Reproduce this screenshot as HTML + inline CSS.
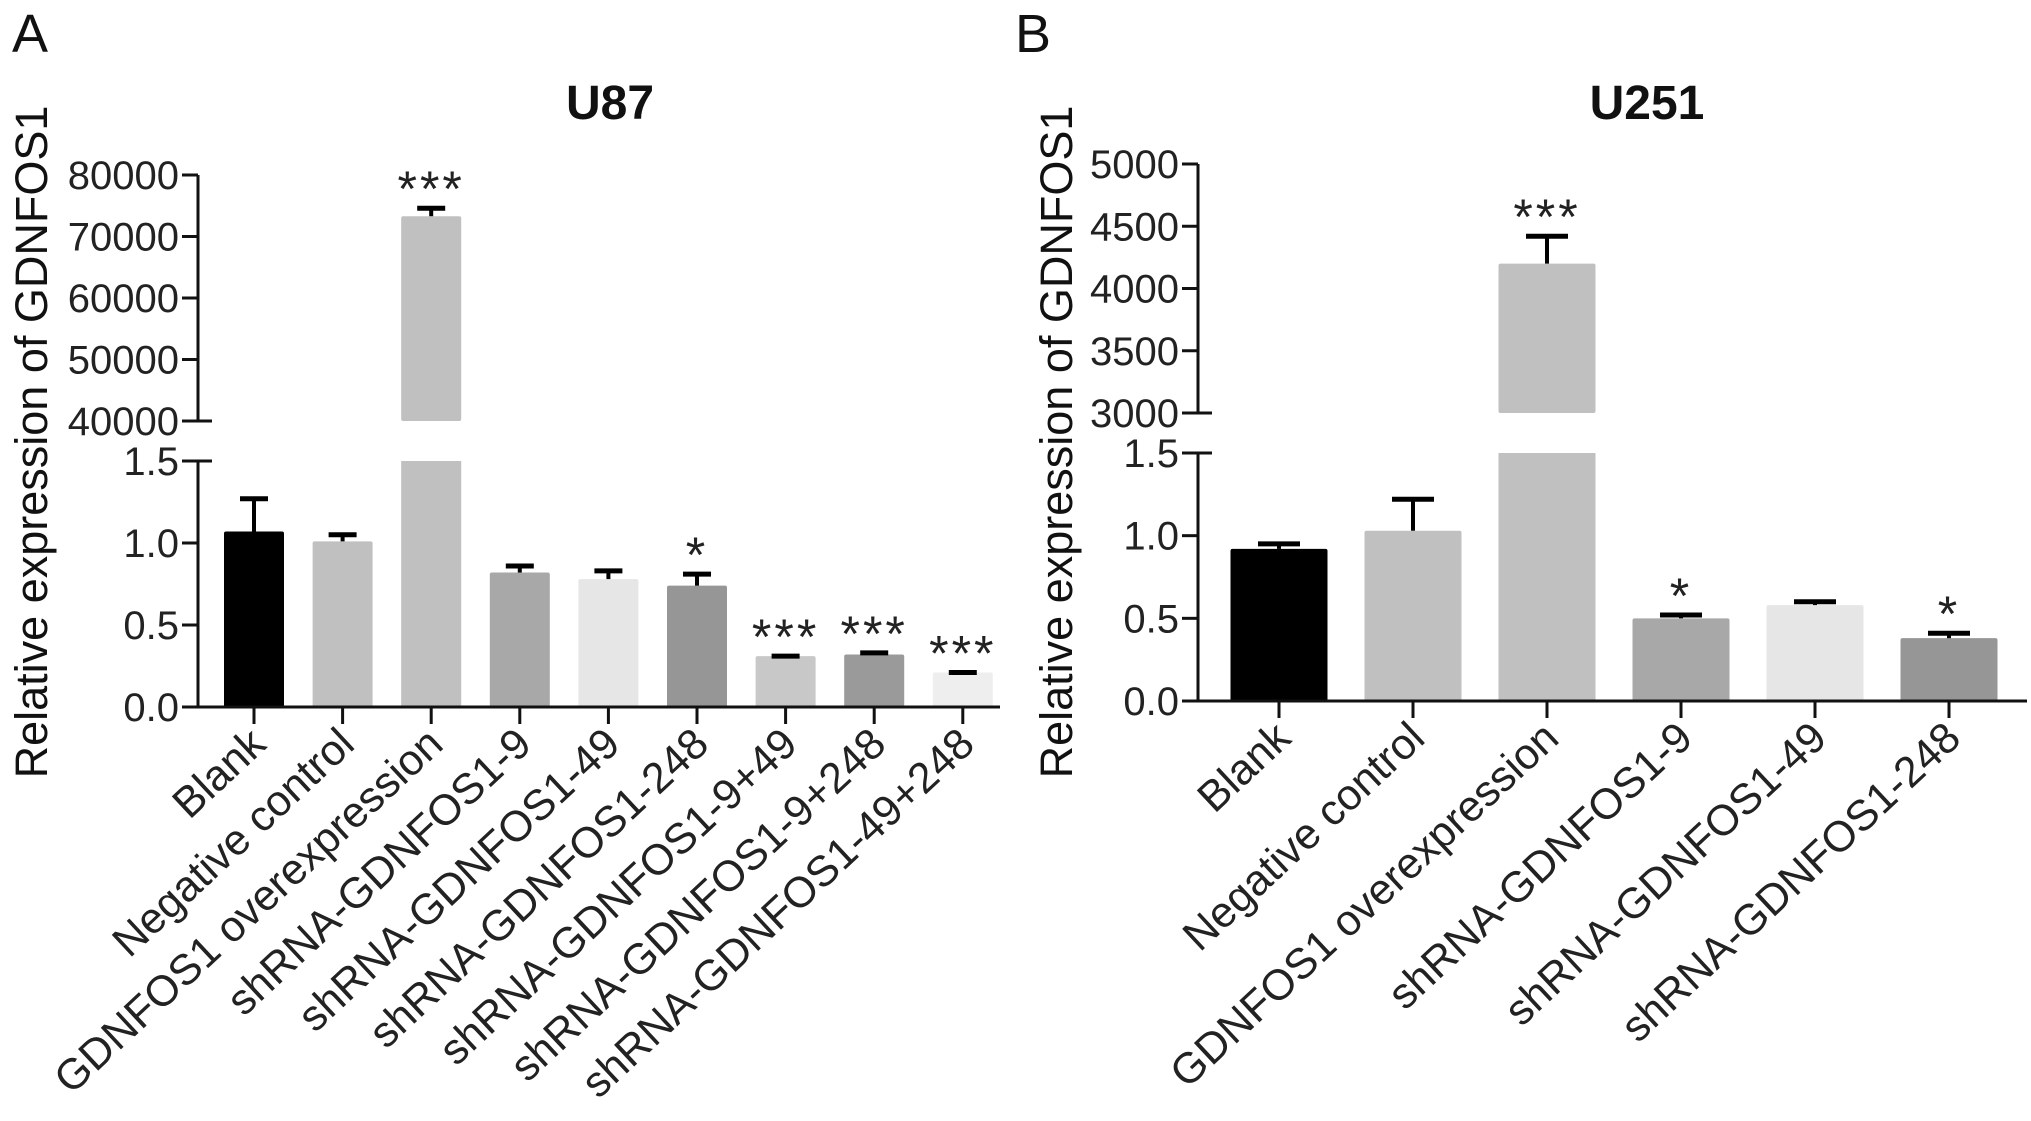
<!DOCTYPE html>
<html><head><meta charset="utf-8"><style>
html,body{margin:0;padding:0;background:#fff;}
svg{display:block;font-family:"Liberation Sans",Arial,sans-serif;}
</style></head><body>
<svg id="fig" width="2031" height="1121" viewBox="0 0 2031 1121" xmlns="http://www.w3.org/2000/svg"></svg>
<script>
// Panel A data (U87)
const catsA = ["Blank","Negative control","GDNFOS1 overexpression","shRNA-GDNFOS1-9","shRNA-GDNFOS1-49","shRNA-GDNFOS1-248","shRNA-GDNFOS1-9+49","shRNA-GDNFOS1-9+248","shRNA-GDNFOS1-49+248"];
const valsA = [1.07,1.01,73300,0.82,0.78,0.74,0.31,0.32,0.21];
const errA = [0.20,0.04,1300,0.04,0.05,0.07,0.00,0.01,0.00];
const starsA = ["","","***","","","*","***","***","***"];
const colorsA = ["#000000","#c0c0c0","#c0c0c0","#a8a8a8","#e6e6e6","#969696","#c8c8c8","#9a9a9a","#eeeeee"];
const lowTicksA = ["0.0","0.5","1.0","1.5"];
const highTicksA = ["40000","50000","60000","70000","80000"];
// Panel B data (U251)
const catsB = ["Blank","Negative control","GDNFOS1 overexpression","shRNA-GDNFOS1-9","shRNA-GDNFOS1-49","shRNA-GDNFOS1-248"];
const valsB = [0.92,1.03,4200,0.50,0.58,0.38];
const errB = [0.03,0.19,220,0.02,0.02,0.03];
const starsB = ["","","***","*","","*"];
const colorsB = ["#000000","#c0c0c0","#c0c0c0","#a8a8a8","#e6e6e6","#969696"];
const lowTicksB = ["0.0","0.5","1.0","1.5"];
const highTicksB = ["3000","3500","4000","4500","5000"];

const NS="http://www.w3.org/2000/svg";
const svg=document.getElementById('fig');
function mk(tag,attrs,parent,txt){const e=document.createElementNS(NS,tag);for(const k in attrs)e.setAttribute(k,attrs[k]);if(txt!==undefined)e.textContent=txt;(parent||svg).appendChild(e);return e;}

function panel(o){
  const g=mk('g',{});
  
  
  const lowMax=+o.lowTicks[o.lowTicks.length-1];
  const hMin=+o.highTicks[0], hMax=+o.highTicks[o.highTicks.length-1];
  const yLow=v=>o.y0-v/lowMax*(o.y0-o.yLowTop);
  const yHigh=v=>o.yHighBot-(v-hMin)/(hMax-hMin)*(o.yHighBot-o.yHighTop);
  const xPos=i=>o.x0+i*o.step;
  const L=mk('text',{x:o.letterX,y:52,'font-size':54,fill:'#111'},g,o.letter);
  
  const T=mk('text',{x:o.titleX,y:119,'font-size':48,'font-weight':'bold','text-anchor':'middle',fill:'#111'},g,o.title);
  
  const YT=mk('text',{x:0,y:0,'font-size':45,'text-anchor':'middle',fill:'#111',transform:`translate(${o.ytX},${o.ytY}) rotate(-90)`},g,'Relative expression of GDNFOS1');
  
  o.vals.forEach((v,i)=>{
    const cx=xPos(i), w=o.bw;
    let et;
    if(v>lowMax){
      const b1=mk('rect',{x:cx-w/2,y:o.yLowTop,width:w,height:o.y0-o.yLowTop,fill:o.colors[i]},g);
      
      const b2=mk('rect',{x:cx-w/2,y:yHigh(v),width:w,height:o.yHighBot-yHigh(v),fill:o.colors[i],rx:2},g);
      
      et=yHigh(v+o.err[i]);
      mk('line',{x1:cx,x2:cx,y1:yHigh(v),y2:et,stroke:'#000','stroke-width':4},g);
    } else {
      const b=mk('rect',{x:cx-w/2,y:yLow(v),width:w,height:o.y0-yLow(v),fill:o.colors[i],rx:2},g);
      
      et=yLow(v+o.err[i]);
      mk('line',{x1:cx,x2:cx,y1:yLow(v),y2:et,stroke:'#000','stroke-width':4},g);
    }
    const c=mk('line',{x1:cx-o.cap/2,x2:cx+o.cap/2,y1:et,y2:et,stroke:'#000','stroke-width':5},g);
    
    if(o.stars[i]){const s=mk('text',{x:cx,y:et-2,'font-size':50,'text-anchor':'middle','letter-spacing':3,fill:'#222'},g,o.stars[i]);
      }
  });
  const ax=mk('line',{x1:o.axX,x2:o.axX,y1:o.y0+1.5,y2:o.yLowTop,stroke:'#111','stroke-width':3},g);
  
  const ax2=mk('line',{x1:o.axX,x2:o.axX,y1:o.yHighBot,y2:o.yHighTop,stroke:'#111','stroke-width':3},g);
  
  const xa=mk('line',{x1:o.axX,x2:o.xEnd,y1:o.y0,y2:o.y0,stroke:'#111','stroke-width':3},g);
  
  mk('line',{x1:o.axX,x2:o.axX+14,y1:o.yLowTop,y2:o.yLowTop,stroke:'#111','stroke-width':3},g);
  mk('line',{x1:o.axX,x2:o.axX+14,y1:o.yHighBot,y2:o.yHighBot,stroke:'#111','stroke-width':3},g);
  o.lowTicks.forEach(t=>{const y=yLow(+t);
    mk('line',{x1:o.axX-16,x2:o.axX,y1:y,y2:y,stroke:'#111','stroke-width':3},g);
    const e=mk('text',{x:o.axX-19,y:y+14,'font-size':40,'text-anchor':'end',fill:'#222'},g,t);
    });
  o.highTicks.forEach(t=>{const y=yHigh(+t);
    mk('line',{x1:o.axX-16,x2:o.axX,y1:y,y2:y,stroke:'#111','stroke-width':3},g);
    const e=mk('text',{x:o.axX-19,y:y+14,'font-size':40,'text-anchor':'end',fill:'#222'},g,t);
    });
  o.cats.forEach((c,i)=>{const x=xPos(i);
    mk('line',{x1:x,x2:x,y1:o.y0,y2:o.y0+17,stroke:'#111','stroke-width':3},g);
    const e=mk('text',{x:0,y:0,'font-size':43,'text-anchor':'end',fill:'#222',transform:`translate(${x+14},${o.y0+40}) rotate(-43)`},g,c);
    });
}

panel({id:'u87',letter:'A',letterX:12,title:'U87',titleX:610,ytX:47,ytY:442,
  cats:catsA,vals:valsA,err:errA,stars:starsA,colors:colorsA,lowTicks:lowTicksA,highTicks:highTicksA,
  axX:198,xEnd:1000,x0:254,step:88.6,bw:60,cap:28,y0:707,yLowTop:461,yHighBot:421,yHighTop:175});
panel({id:'u251',letter:'B',letterX:1015,title:'U251',titleX:1647,ytX:1072,ytY:442,
  cats:catsB,vals:valsB,err:errB,stars:starsB,colors:colorsB,lowTicks:lowTicksB,highTicks:highTicksB,
  axX:1198,xEnd:2027,x0:1279,step:134,bw:97,cap:42,y0:701,yLowTop:453,yHighBot:413,yHighTop:164});
</script>
</body></html>
